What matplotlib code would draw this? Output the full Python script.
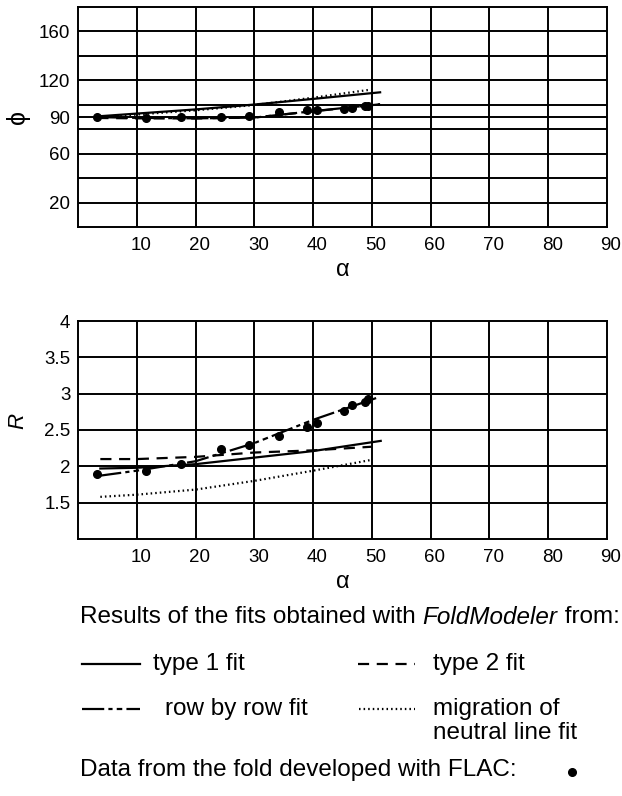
import matplotlib
matplotlib.use("Agg")
import matplotlib.pyplot as plt
from matplotlib.transforms import ScaledTranslation

plt.rcParams['font.family'] = ['Liberation Sans', 'DejaVu Sans']
plt.rcParams['lines.scale_dashes'] = False

# ---- data -------------------------------------------------------------
alpha_flac = [3.3, 11.6, 17.5, 24.4, 29.1, 34.2, 39.0, 40.7, 45.2, 46.7, 48.8, 49.4]
phi_flac = [90.0, 89.2, 89.7, 89.7, 90.5, 93.8, 95.5, 95.5, 96.5, 97.6, 98.7, 99.3]
R_flac = [1.89, 1.93, 2.03, 2.24, 2.30, 2.42, 2.54, 2.59, 2.76, 2.84, 2.89, 2.92]

phi_fit_alpha = [3.3, 10, 20, 30, 40, 51.4]
phi_type1 = [90.5, 92.8, 96.2, 100.2, 104.8, 110.2]
phi_type2 = [89.2, 88.9, 88.8, 89.6, 94.6, 100.4]
phi_row = [89.9, 89.3, 88.9, 89.5, 94.8, 100.4]
phi_migr_alpha = [3.3, 10, 20, 30, 40, 49.5]
phi_migr = [89.8, 92.0, 95.5, 99.8, 105.8, 112.2]

R_type1_alpha = [3.8, 10, 20, 30, 40, 51.5]
R_type1 = [1.97, 1.98, 2.03, 2.12, 2.21, 2.35]
R_type2_alpha = [3.8, 10, 20, 30, 40, 50]
R_type2 = [2.10, 2.10, 2.13, 2.19, 2.22, 2.27]
R_row_alpha = [3.6, 10, 20, 30, 40, 51.1]
R_row = [1.87, 1.94, 2.07, 2.32, 2.64, 2.95]
R_migr_alpha = [3.8, 10, 20, 30, 40, 50]
R_migr = [1.58, 1.61, 1.68, 1.80, 1.94, 2.09]

x_ticks = [10, 20, 30, 40, 50, 60, 70, 80, 90]
phi_grid = [20, 40, 60, 80, 90, 100, 120, 140, 160]
phi_labels = [20, 60, 90, 120, 160]
R_grid = [1.5, 2, 2.5, 3, 3.5]
R_labels = ['1.5', '2', '2.5', '3', '3.5', '4']
R_label_pos = [1.5, 2, 2.5, 3, 3.5, 4]

# ---- styles -----------------------------------------------------------
LW = 1.6
st_type1 = dict(color='black', lw=LW, ls='-')
st_type2 = dict(color='black', lw=LW, ls=(0, (8, 5.5)))
st_row = dict(color='black', lw=LW, ls=(0, (16, 3, 3, 3, 4, 3)))
st_migr = dict(color='black', lw=LW, ls=(0, (1.1, 2.2)))
st_pts = dict(color='black', marker='o', ms=5.5, ls='none')

W, H = 622, 796
fig = plt.figure(figsize=(W / 100, H / 100), dpi=100)

def frame(ax, grid_y):
    ax.set_xlim(0, 90)
    for s in ax.spines.values():
        s.set_linewidth(1.4)
    for x in x_ticks[:-1]:
        ax.axvline(x, color='black', lw=1.4, zorder=0)
    for y in grid_y:
        ax.axhline(y, color='black', lw=1.4, zorder=0)
    ax.set_xticks(x_ticks)
    ax.set_xticklabels([str(v) for v in x_ticks])
    ax.tick_params(length=0, labelsize=13.5)
    ax.tick_params(axis='x', pad=7)
    ax.tick_params(axis='y', pad=5.5)
    off = ScaledTranslation(4 / 100, 0, fig.dpi_scale_trans)
    for lab in ax.get_xticklabels():
        lab.set_transform(lab.get_transform() + off)
    ax.set_xlabel('α', fontsize=17, labelpad=4)

# top panel
ax1 = fig.add_axes([78 / W, 1 - 227 / H, 529 / W, 220 / H])
frame(ax1, phi_grid)
ax1.set_ylim(0, 180)
ax1.set_yticks(phi_labels)
ax1.set_yticklabels([str(v) for v in phi_labels])
ax1.set_ylabel('ϕ', fontsize=18, va='center')
ax1.yaxis.set_label_coords(-0.113, (227 - 117) / 220)
ax1.plot(phi_fit_alpha, phi_type1, **st_type1)
ax1.plot(phi_fit_alpha, phi_type2, **st_type2)
ax1.plot(phi_fit_alpha, phi_row, **st_row)
ax1.plot(phi_migr_alpha, phi_migr, **st_migr)
ax1.plot(alpha_flac, phi_flac, **st_pts)

# bottom panel
ax2 = fig.add_axes([78 / W, 1 - 539 / H, 529 / W, 218 / H])
frame(ax2, R_grid)
ax2.set_ylim(1, 4)
ax2.set_yticks(R_label_pos)
ax2.set_yticklabels(R_labels)
ax2.set_ylabel('R', fontsize=16, style='italic', va='center')
ax2.yaxis.set_label_coords(-0.113, (539 - 421) / 218)
ax2.plot(R_type1_alpha, R_type1, **st_type1)
ax2.plot(R_type2_alpha, R_type2, **st_type2)
ax2.plot(R_row_alpha, R_row, **st_row)
ax2.plot(R_migr_alpha, R_migr, **st_migr)
ax2.plot(alpha_flac, R_flac, **st_pts)

# legend block (pixel coordinates overlay)
lg = fig.add_axes([0, 0, 1, 1])
lg.set_xlim(0, W)
lg.set_ylim(H, 0)
lg.axis('off')
fs = 17.5
t = lg.text(80, 617, 'Results of the fits obtained with ', fontsize=fs, va='center', ha='left')
fig.canvas.draw()
bb = t.get_window_extent().transformed(lg.transData.inverted())
t2 = lg.text(bb.x1, 617, 'FoldModeler', fontsize=fs, style='italic', va='center', ha='left')
fig.canvas.draw()
bb2 = t2.get_window_extent().transformed(lg.transData.inverted())
lg.text(bb2.x1, 617, ' from:', fontsize=fs, va='center', ha='left')

lg.plot([82, 140], [664, 664], **st_type1)
lg.text(153, 664, 'type 1 fit', fontsize=fs, va='center', ha='left')
lg.plot([358, 415], [664, 664], **st_type2)
lg.text(433, 664, 'type 2 fit', fontsize=fs, va='center', ha='left')
lg.plot([82, 140], [709, 709], **st_row)
lg.text(165, 709, 'row by row fit', fontsize=fs, va='center', ha='left')
lg.plot([359, 415], [709, 709], **st_migr)
lg.text(433, 709, 'migration of', fontsize=fs, va='center', ha='left')
lg.text(433, 733, 'neutral line fit', fontsize=fs, va='center', ha='left')
lg.text(80, 770, 'Data from the fold developed with FLAC:', fontsize=fs, va='center', ha='left')
lg.plot([572], [772], **st_pts)

fig.savefig('out.png', dpi=100)
